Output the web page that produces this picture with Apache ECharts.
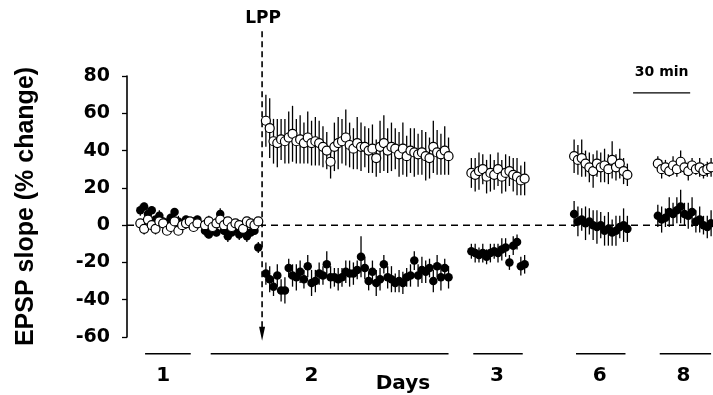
<!DOCTYPE html>
<html><head><meta charset="utf-8">
<style>html,body{margin:0;padding:0;background:#fff}#c{width:713px;height:395px}</style>
<script src="https://cdn.jsdelivr.net/npm/echarts@6/dist/echarts.min.js"></script>
</head><body><div id="c"></div>
<script>
// ---- sampling schedule (minutes on the plotted time line, 2-min samples) ----
const sampleStepMin = 2;
const startDay1 = 7, startDay2Pre = 41, startDay2Post = 73, startDay3 = 181, startDay6 = 235, startDay8 = 279;

// ---- open circles (% change) ----
const openDay1 = [1, -2, 3, 0, -2, 2, 1, -3, -1, 2, -3, 0, 1, 2, -1, 1];
const openDay2Pre = [0, 2, -1, 1, 3, 0, 2, -1, 1, 0, -2, 2, 1, 0, 2];
const openDay2Post = [56, 52, 45, 44, 46, 45, 47, 49, 45, 46, 44, 47, 44, 45, 44, 42, 40, 34, 42, 44, 45, 47, 43, 41, 44, 42, 42, 40, 41, 36, 42, 44, 40, 42, 41, 38, 41, 37, 40, 39, 38, 39, 37, 36, 42, 39, 38, 40, 37];
const openDay3 = [28, 27, 29, 30, 26, 28, 27, 30, 26, 28, 29, 27, 26, 24, 25];
const openDay6 = [37, 35, 36, 33, 31, 29, 33, 31, 32, 30, 35, 31, 33, 29, 27];
const openDay8 = [33, 30, 31, 29, 32, 30, 34, 31, 29, 32, 30, 31, 29, 30, 31];
// ---- open circle error bars ----
const openErrDay1 = [2, 3, 2, 2, 3, 2, 3, 2, 2, 3, 2, 2, 3, 2, 2, 3];
const openErrDay2Pre = [2, 3, 2, 2, 3, 2, 2, 3, 2, 2, 3, 2, 2, 3, 2];
const openErrDay2Post = [14, 16, 12, 13, 11, 12, 14, 15, 12, 13, 11, 14, 12, 13, 12, 11, 10, 9, 13, 14, 12, 15, 12, 11, 14, 13, 11, 12, 13, 10, 14, 15, 12, 13, 11, 12, 14, 11, 12, 13, 11, 12, 13, 11, 14, 12, 11, 13, 10];
const openErrDay3 = [8, 9, 10, 8, 9, 10, 8, 9, 9, 10, 8, 9, 10, 8, 9];
const openErrDay6 = [9, 8, 10, 7, 8, 9, 7, 8, 9, 8, 10, 7, 8, 7, 6];
const openErrDay8 = [4, 5, 4, 3, 5, 4, 6, 4, 5, 4, 3, 5, 4, 4, 5];

// ---- filled circles (% change) ----
const filledDay1 = [8, 10, 6, 8, 3, 5, 2, 1, 4, 7, 2, 0, 3, 1, 2, 3];
const filledDay2Pre = [-3, -5, -2, -4, 6, -3, -6, -4, -2, -5, -3, -6, -4, -3, -12];
const filledDay2Post = [-26, -29, -33, -27, -35, -35, -23, -27, -28, -25, -29, -22, -31, -30, -26, -27, -21, -28, -28, -29, -28, -25, -26, -26, -24, -17, -23, -30, -25, -31, -29, -21, -28, -29, -31, -30, -31, -28, -27, -19, -27, -24, -25, -23, -30, -22, -28, -23, -28];
const filledDay3 = [-14, -15, -16, -15, -17, -15, -14, -15, -13, -12, -20, -11, -9, -22, -21];
const filledDay6 = [6, 2, 3, 1, 2, 0, -1, 0, -3, -2, -4, -3, -1, 0, -2];
const filledDay8 = [5, 3, 4, 7, 6, 8, 10, 6, 5, 7, 2, 3, 0, -1, 1];
// ---- filled circle error bars ----
const filledErrDay1 = [3, 2, 3, 2, 2, 3, 2, 3, 2, 2, 3, 2, 2, 3, 2, 2];
const filledErrDay2Pre = [3, 2, 3, 2, 3, 2, 3, 2, 2, 3, 2, 3, 2, 2, 3];
const filledErrDay2Post = [6, 7, 5, 6, 6, 7, 5, 6, 7, 6, 5, 6, 7, 6, 6, 5, 7, 6, 5, 6, 5, 6, 7, 6, 5, 11, 6, 5, 6, 7, 6, 5, 6, 7, 5, 6, 6, 5, 6, 5, 6, 7, 6, 5, 6, 6, 7, 5, 6];
const filledErrDay3 = [4, 5, 4, 5, 4, 5, 4, 5, 6, 5, 4, 5, 4, 5, 5];
const filledErrDay6 = [7, 8, 6, 9, 7, 8, 9, 7, 8, 9, 7, 8, 6, 9, 7];
const filledErrDay8 = [6, 7, 5, 8, 6, 7, 9, 6, 7, 8, 6, 7, 5, 6, 7];

// ---- axis / annotation values (data units) ----
const yMin = -60, yMax = 80, yStep = 20;
const xMin = 0, xMax = 308;
const dayLabels = ['1', '2', '3', '6', '8'];
const dayLabelTime = [19, 97, 194.5, 248.5, 292.5];
const dayBarFrom = [9.5, 44, 182, 236, 280];
const dayBarTo = [33.5, 169, 208, 262, 307];
const daysTitle = 'Days';
const daysTitleTime = 145;
const lppLabel = 'LPP';
const lppTime = 71;
const scaleBarFrom = 266, scaleBarMinutes = 30;
const scaleBarLabel = '30 min';

function pts(start, vals, errs) {
  return vals.map((v, i) => [start + i * sampleStepMin, v, errs[i]]);
}
const openPts = [].concat(
  pts(startDay1, openDay1, openErrDay1), pts(startDay2Pre, openDay2Pre, openErrDay2Pre),
  pts(startDay2Post, openDay2Post, openErrDay2Post), pts(startDay3, openDay3, openErrDay3),
  pts(startDay6, openDay6, openErrDay6), pts(startDay8, openDay8, openErrDay8));
const filledPts = [].concat(
  pts(startDay1, filledDay1, filledErrDay1), pts(startDay2Pre, filledDay2Pre, filledErrDay2Pre),
  pts(startDay2Post, filledDay2Post, filledErrDay2Post), pts(startDay3, filledDay3, filledErrDay3),
  pts(startDay6, filledDay6, filledErrDay6), pts(startDay8, filledDay8, filledErrDay8));

function errRender(params, api) {
  const x = api.value(0), v = api.value(1), e = api.value(2);
  const a = api.coord([x, v + e]), b = api.coord([x, v - e]);
  return { type: 'line', shape: { x1: a[0], y1: a[1], x2: b[0], y2: b[1] },
    style: { stroke: '#000', lineWidth: 1.3 } };
}

const BOLD = '"DejaVu Sans", sans-serif';
function annRender(params, api) {
  const ch = [];
  // zero reference line
  const z0 = api.coord([xMin, 0]), z1 = api.coord([xMax, 0]);
  ch.push({ type: 'line', shape: { x1: z0[0], y1: z0[1], x2: z1[0], y2: z1[1] },
    style: { stroke: '#000', lineWidth: 1.5, lineDash: [7, 5] } });
  // LPP marker
  const lt = api.coord([lppTime, 104]), lb = api.coord([lppTime, -55]), tip = api.coord([lppTime, -62]);
  ch.push({ type: 'line', shape: { x1: lt[0], y1: lt[1], x2: lb[0], y2: lb[1] },
    style: { stroke: '#000', lineWidth: 1.6, lineDash: [6, 4] } });
  ch.push({ type: 'polygon', shape: { points: [[tip[0], tip[1]], [tip[0] - 3, tip[1] - 14], [tip[0] + 3, tip[1] - 14]] },
    style: { fill: '#000' } });
  const lp = api.coord([lppTime, 111]);
  ch.push({ type: 'text', x: lp[0] + 1, y: lp[1], style: { text: lppLabel, fill: '#000',
    font: '600 17px ' + BOLD, align: 'center', verticalAlign: 'middle' } });
  // day bars and labels
  for (let i = 0; i < dayLabels.length; i++) {
    const a = api.coord([dayBarFrom[i], -69]), b = api.coord([dayBarTo[i], -69]);
    ch.push({ type: 'line', shape: { x1: a[0], y1: a[1], x2: b[0], y2: b[1] },
      style: { stroke: '#000', lineWidth: 1.6 } });
    const t = api.coord([dayLabelTime[i], -81]);
    ch.push({ type: 'text', x: t[0], y: t[1], style: { text: dayLabels[i], fill: '#000',
      font: 'bold 20px ' + BOLD, align: 'center', verticalAlign: 'middle' } });
  }
  const d = api.coord([daysTitleTime, -85]);
  ch.push({ type: 'text', x: d[0], y: d[1], style: { text: daysTitle, fill: '#000',
    font: 'bold 20px ' + BOLD, align: 'center', verticalAlign: 'middle' } });
  // 30 min scale bar
  const s0 = api.coord([scaleBarFrom, 71]), s1 = api.coord([scaleBarFrom + scaleBarMinutes, 71]);
  ch.push({ type: 'line', shape: { x1: s0[0], y1: s0[1], x2: s1[0], y2: s1[1] },
    style: { stroke: '#000', lineWidth: 1.3 } });
  const st = api.coord([scaleBarFrom + scaleBarMinutes / 2, 82]);
  ch.push({ type: 'text', x: st[0], y: st[1], style: { text: scaleBarLabel, fill: '#000',
    font: 'bold 14px ' + BOLD, align: 'center', verticalAlign: 'middle' } });
  return { type: 'group', children: ch };
}

const chart = echarts.init(document.getElementById('c'), null, { renderer: 'canvas' });
chart.setOption({
  animation: false,
  backgroundColor: '#fff',
  grid: { left: 127, right: 0, top: 76, bottom: 58, containLabel: false, outerBoundsMode: 'none' },
  xAxis: { type: 'value', min: xMin, max: xMax, show: false },
  yAxis: {
    type: 'value', min: yMin, max: yMax, interval: yStep,
    name: 'EPSP slope (% change)', nameLocation: 'middle', nameGap: 88, nameRotate: 90,
    nameTextStyle: { fontFamily: '"Liberation Sans", Arial, sans-serif', fontWeight: 'bold', fontSize: 25, color: '#000' },
    axisLine: { show: true, lineStyle: { color: '#000', width: 1.6 } },
    axisTick: { show: true, length: 5, lineStyle: { color: '#000', width: 1.3 } },
    axisLabel: { color: '#000', fontFamily: BOLD, fontWeight: 'bold', fontSize: 19, margin: 17 },
    splitLine: { show: false }
  },
  series: [
    { type: 'custom', z: 1, silent: true, clip: false, renderItem: annRender, data: [[0, 0]] },
    { type: 'custom', z: 3, silent: true, renderItem: errRender, data: filledPts },
    { type: 'custom', z: 3, silent: true, renderItem: errRender, data: openPts },
    { type: 'scatter', z: 4, silent: true, symbol: 'circle', symbolSize: 8.5,
      itemStyle: { color: '#000', opacity: 1 }, data: filledPts.map(p => [p[0], p[1]]) },
    { type: 'scatter', z: 5, silent: true, symbol: 'circle', symbolSize: 9,
      itemStyle: { color: '#fff', borderColor: '#000', borderWidth: 1.2, opacity: 1 }, data: openPts.map(p => [p[0], p[1]]) }
  ]
});
</script>
</body></html>
